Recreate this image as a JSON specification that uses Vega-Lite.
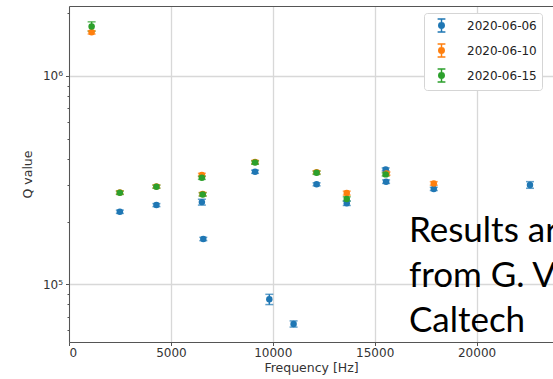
{
  "$schema": "https://vega.github.io/schema/vega-lite/v6.json",
  "width": 484,
  "height": 336,
  "autosize": {"type": "none"},
  "padding": {"left": 69, "top": 6, "right": 0, "bottom": 37},
  "background": "white",
  "config": {
    "view": {"stroke": null},
    "font": "DejaVu Sans",
    "axis": {
      "labelFont": "DejaVu Sans",
      "titleFont": "DejaVu Sans",
      "labelColor": "#333",
      "titleColor": "#333",
      "titleFontWeight": "normal",
      "domainColor": "#555",
      "domainWidth": 1,
      "tickColor": "#555",
      "gridColor": "#d8d8d8",
      "gridWidth": 1.3
    }
  },
  "datasets": {
    "pts": [
      {"s": "2020-06-06", "f": 2495, "q": 223000, "lo": 219000, "hi": 227000},
      {"s": "2020-06-06", "f": 4290, "q": 240000, "lo": 236000, "hi": 244000},
      {"s": "2020-06-06", "f": 6520, "q": 248000, "lo": 240000, "hi": 256000},
      {"s": "2020-06-06", "f": 6590, "q": 165000, "lo": 162000, "hi": 168000},
      {"s": "2020-06-06", "f": 9130, "q": 347000, "lo": 341000, "hi": 353000},
      {"s": "2020-06-06", "f": 9830, "q": 84700, "lo": 79900, "hi": 89500},
      {"s": "2020-06-06", "f": 11020, "q": 64500, "lo": 62300, "hi": 66700},
      {"s": "2020-06-06", "f": 12150, "q": 302000, "lo": 297000, "hi": 307000},
      {"s": "2020-06-06", "f": 13630, "q": 245000, "lo": 239000, "hi": 251000},
      {"s": "2020-06-06", "f": 15540, "q": 356000, "lo": 350000, "hi": 362000},
      {"s": "2020-06-06", "f": 15560, "q": 311000, "lo": 305000, "hi": 317000},
      {"s": "2020-06-06", "f": 17900, "q": 287000, "lo": 282000, "hi": 292000},
      {"s": "2020-06-06", "f": 22620, "q": 300000, "lo": 289000, "hi": 311000},
      {"s": "2020-06-10", "f": 1110, "q": 1620000, "lo": 1590000, "hi": 1650000},
      {"s": "2020-06-10", "f": 2495, "q": 276000, "lo": 271000, "hi": 281000},
      {"s": "2020-06-10", "f": 4290, "q": 295000, "lo": 290000, "hi": 300000},
      {"s": "2020-06-10", "f": 6520, "q": 335000, "lo": 329000, "hi": 341000},
      {"s": "2020-06-10", "f": 6560, "q": 271000, "lo": 266000, "hi": 276000},
      {"s": "2020-06-10", "f": 9130, "q": 386000, "lo": 379000, "hi": 393000},
      {"s": "2020-06-10", "f": 12150, "q": 345000, "lo": 339000, "hi": 351000},
      {"s": "2020-06-10", "f": 13630, "q": 274000, "lo": 268000, "hi": 280000},
      {"s": "2020-06-10", "f": 15580, "q": 340000, "lo": 334000, "hi": 346000},
      {"s": "2020-06-10", "f": 17900, "q": 305000, "lo": 299000, "hi": 311000},
      {"s": "2020-06-15", "f": 1110, "q": 1730000, "lo": 1640000, "hi": 1820000},
      {"s": "2020-06-15", "f": 2495, "q": 275000, "lo": 270000, "hi": 280000},
      {"s": "2020-06-15", "f": 4290, "q": 294000, "lo": 289000, "hi": 299000},
      {"s": "2020-06-15", "f": 6520, "q": 325000, "lo": 319000, "hi": 331000},
      {"s": "2020-06-15", "f": 6560, "q": 270000, "lo": 265000, "hi": 275000},
      {"s": "2020-06-15", "f": 9130, "q": 384000, "lo": 377000, "hi": 391000},
      {"s": "2020-06-15", "f": 12150, "q": 343000, "lo": 337000, "hi": 349000},
      {"s": "2020-06-15", "f": 13630, "q": 257000, "lo": 251000, "hi": 263000},
      {"s": "2020-06-15", "f": 15540, "q": 337000, "lo": 331000, "hi": 343000}
    ],
    "note": [
      {"f": 16680, "q": 159600, "note": "Results are|from G. Vajente|Caltech"}
    ]
  },
  "resolve": {"axis": {"x": "independent", "y": "independent"}},
  "layer": [
    {
      "data": {"name": "pts"},
      "mark": {"type": "rule", "strokeWidth": 1.5},
      "encoding": {
        "x": {"field": "f", "type": "quantitative", "scale": {"domain": [0, 23750], "nice": false, "zero": false},
              "axis": {"orient": "top", "labels": false, "ticks": false, "grid": false, "title": null, "domain": true}},
        "y": {"field": "lo", "type": "quantitative", "scale": {"type": "log", "domain": [52830, 2168000], "nice": false}, "axis": null},
        "y2": {"field": "hi"},
        "color": {"field": "s", "type": "nominal", "scale": {"domain": ["2020-06-06", "2020-06-10", "2020-06-15"], "range": ["#1f77b4", "#ff7f0e", "#2ca02c"]},
                  "legend": {"title": null, "orient": "none", "legendX": 355, "legendY": 7,
                             "symbolType": "M0,-1L0,1M-0.6,-1L0.6,-1M-0.6,1L0.6,1M0.42,0A0.42,0.42,0,1,1,-0.42,0A0.42,0.42,0,1,1,0.42,0Z",
                             "symbolSize": 169, "symbolStrokeWidth": 1.5, "symbolOpacity": 1,
                             "labelFont": "DejaVu Sans", "labelFontSize": 12, "labelColor": "#222",
                             "padding": 5, "rowPadding": 6, "symbolOffset": 5, "labelOffset": 18,
                             "strokeColor": "#d5d5d5", "fillColor": "white", "cornerRadius": 3,
                             "encode": {"symbols": {"update": {"stroke": {"scale": "color", "field": "value"}, "fill": {"scale": "color", "field": "value"}}}}}}
      }
    },
    {
      "data": {"name": "pts"},
      "mark": {"type": "tick", "orient": "horizontal", "thickness": 1.5, "size": 8},
      "encoding": {
        "x": {"field": "f", "type": "quantitative", "axis": null},
        "y": {"field": "lo", "type": "quantitative", "axis": null},
        "color": {"field": "s", "type": "nominal"}
      }
    },
    {
      "data": {"name": "pts"},
      "mark": {"type": "tick", "orient": "horizontal", "thickness": 1.5, "size": 8},
      "encoding": {
        "x": {"field": "f", "type": "quantitative", "axis": null},
        "y": {"field": "hi", "type": "quantitative", "axis": null},
        "color": {"field": "s", "type": "nominal"}
      }
    },
    {
      "data": {"name": "pts"},
      "mark": {"type": "point", "filled": true, "size": 42, "opacity": 1},
      "encoding": {
        "x": {"field": "f", "type": "quantitative",
              "axis": {"orient": "bottom", "values": [0, 5000, 10000, 15000, 20000], "format": "d", "labelFontSize": 12, "tickSize": 3.5, "labelPadding": 2, "grid": true, "title": "Frequency [Hz]", "titleFontSize": 12.5, "titlePadding": 3}},
        "y": {"field": "q", "type": "quantitative",
              "axis": {"orient": "left", "title": "Q value", "titleFontSize": 12.5, "titlePadding": 8,
                       "values": [60000, 70000, 80000, 90000, 100000, 200000, 300000, 400000, 500000, 600000, 700000, 800000, 900000, 1000000, 2000000],
                       "labelExpr": "datum.value == 100000 ? '10⁵' : (datum.value == 1000000 ? '10⁶' : '')",
                       "labelFontSize": 12, "labelPadding": 3, "labelOverlap": false,
                       "tickSize": {"condition": {"test": "datum.value == 100000 || datum.value == 1000000", "value": 3.5}, "value": 2},
                       "grid": true,
                       "gridOpacity": {"condition": {"test": "datum.value == 100000 || datum.value == 1000000", "value": 1}, "value": 0}}},
        "color": {"field": "s", "type": "nominal"}
      }
    },
    {
      "data": {"name": "note"},
      "mark": {"type": "text", "font": "Lato", "fontSize": 35, "color": "black", "align": "left", "baseline": "alphabetic", "lineBreak": "|", "lineHeight": 45},
      "encoding": {
        "x": {"field": "f", "type": "quantitative", "axis": null},
        "y": {"field": "q", "type": "quantitative", "axis": null},
        "text": {"field": "note"}
      }
    }
  ]
}
